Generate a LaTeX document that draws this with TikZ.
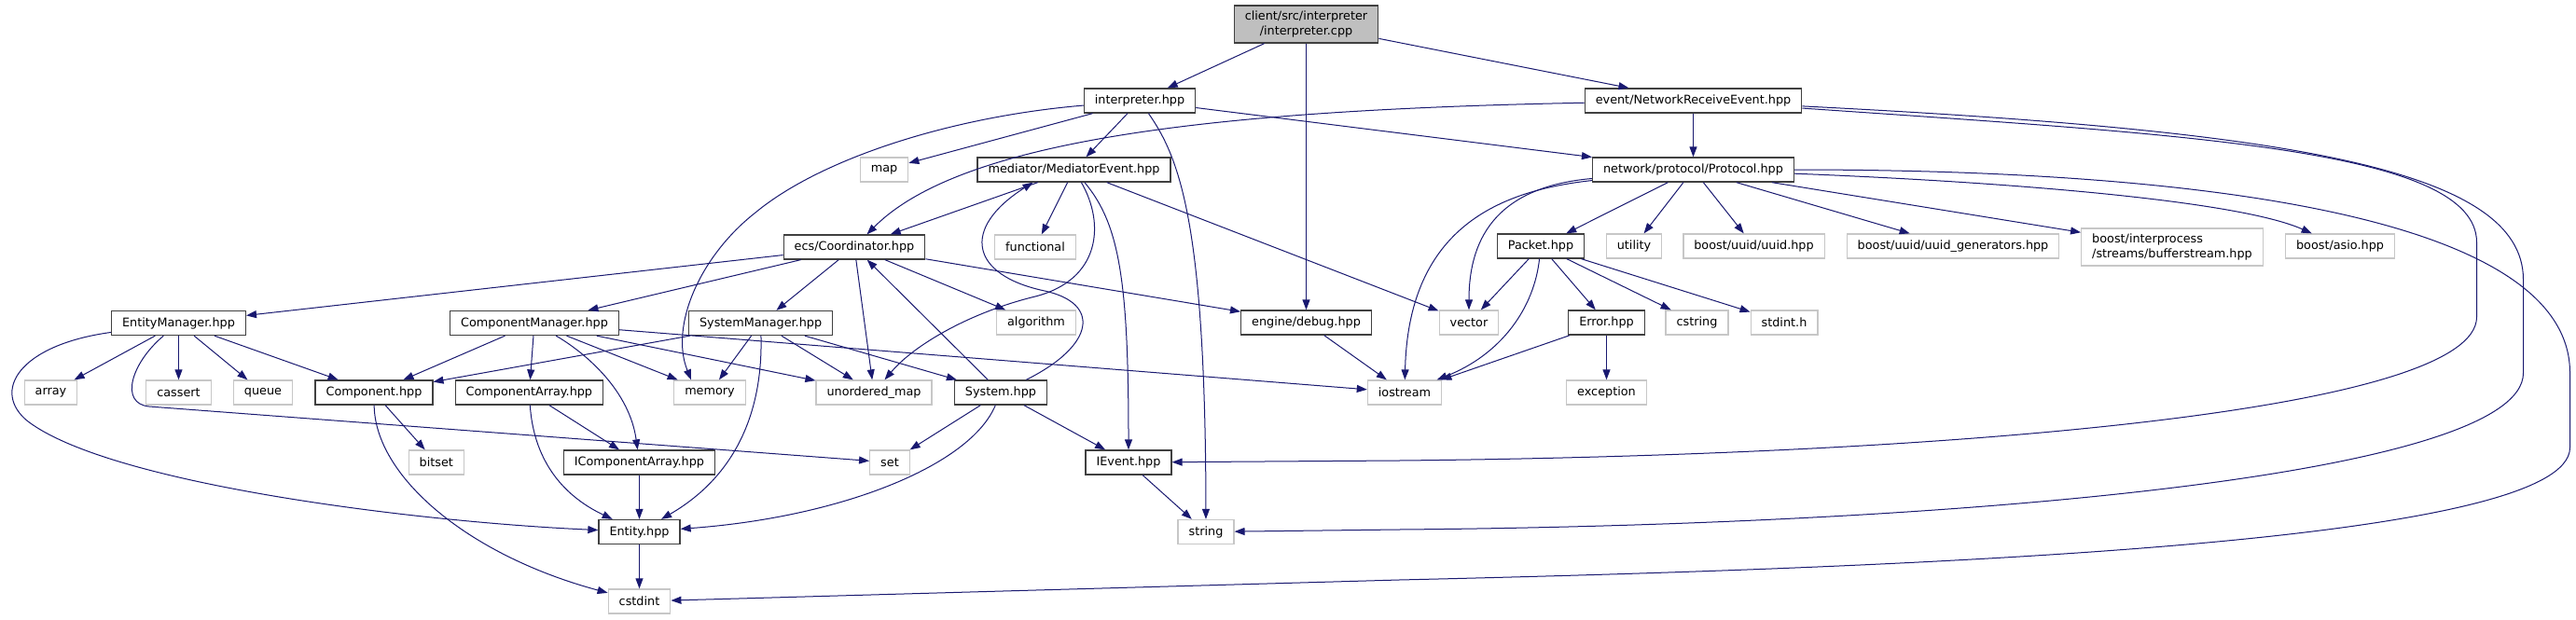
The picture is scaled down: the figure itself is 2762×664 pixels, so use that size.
\documentclass[tikz,border=0pt]{standalone}
\usepackage{fontspec}
\setmainfont{DejaVu Sans}
\usetikzlibrary{arrows.meta}
\definecolor{edgeblue}{HTML}{191970}
\newcommand{\incfont}{\fontsize{12.8}{15.5}\selectfont}

\begin{document}
\begin{tikzpicture}[
  x=1pt,y=-1pt,
  hdr/.style={draw=black!75,line width=1.3pt,fill=white,font=\incfont,
              inner xsep=11.5pt,inner ysep=0pt,minimum height=26pt},
  syshdr/.style={hdr,draw=black!22},
  rootfile/.style={hdr,fill=black!25,align=center,minimum height=40pt},
  inc/.style={-{Triangle[length=11pt,width=8pt]},draw=edgeblue,line width=1pt}
]
\path[fill=white,use as bounding box] (0,0) rectangle (2762,664);
\node[rootfile] (cpp) at (1400.5,26) {client/src/interpreter\\/interpreter.cpp};
\node[hdr] (ihpp) at (1222,108) {interpreter.hpp};
\node[hdr] (nre) at (1815.5,108) {event/NetworkReceiveEvent.hpp};
\node[syshdr] (map) at (948,182) {map};
\node[hdr] (med) at (1151.5,182) {mediator/MediatorEvent.hpp};
\node[hdr] (proto) at (1815.5,182) {network/protocol/Protocol.hpp};
\node[hdr] (coord) at (916,265) {ecs/Coordinator.hpp};
\node[syshdr] (func) at (1110,265) {functional};
\node[hdr] (packet) at (1652,264) {Packet.hpp};
\node[syshdr] (utility) at (1752,264) {utility};
\node[syshdr] (uuid) at (1880.5,264) {boost/uuid/uuid.hpp};
\node[syshdr] (uuidgen) at (2094,264) {boost/uuid/uuid\_generators.hpp};
\node[syshdr,align=left,minimum height=40pt] (bufstr) at (2329,265) {boost/interprocess\\/streams/bufferstream.hpp};
\node[syshdr] (asio) at (2509,264) {boost/asio.hpp};
\node[hdr] (entmgr) at (191.5,346.5) {EntityManager.hpp};
\node[hdr] (compmgr) at (573,346.5) {ComponentManager.hpp};
\node[hdr] (sysmgr) at (815.6,346.5) {SystemManager.hpp};
\node[syshdr] (algo) at (1111,346) {algorithm};
\node[hdr] (debug) at (1400.5,346) {engine/debug.hpp};
\node[syshdr] (vector) at (1575,346) {vector};
\node[hdr] (error) at (1722.5,346) {Error.hpp};
\node[syshdr] (cstring) at (1819.5,346) {cstring};
\node[syshdr] (stdinth) at (1913,346) {stdint.h};
\node[syshdr] (array) at (54.5,421) {array};
\node[syshdr] (cassert) at (191.5,421) {cassert};
\node[syshdr] (queue) at (282,421) {queue};
\node[hdr] (comp) at (401,421) {Component.hpp};
\node[hdr] (comparr) at (567.4,421) {ComponentArray.hpp};
\node[syshdr] (memory) at (761,421) {memory};
\node[syshdr] (umap) at (937,421) {unordered\_map};
\node[hdr] (system) at (1073,421) {System.hpp};
\node[syshdr] (iostream) at (1506,421) {iostream};
\node[syshdr] (exception) at (1722.5,421) {exception};
\node[syshdr] (bitset) at (467.8,496) {bitset};
\node[hdr] (icomparr) at (685.5,496) {IComponentArray.hpp};
\node[syshdr] (set) at (954,496) {set};
\node[hdr] (ievent) at (1210,496) {IEvent.hpp};
\node[hdr] (entity) at (685.5,570.5) {Entity.hpp};
\node[syshdr] (string) at (1293,570.5) {string};
\node[syshdr] (cstdint) at (685.5,645) {cstdint};
% interpreter.cpp
\draw[inc] (cpp) -- (ihpp);
\draw[inc] (cpp) -- (debug);
\draw[inc] (cpp) -- (nre);
% interpreter.hpp
\draw[inc] (ihpp) -- (map);
\draw[inc] (ihpp) -- (med);
\draw[inc] (ihpp) -- (proto);
\draw[inc] (ihpp) .. controls (1265,170) and (1292.5,240) .. (string);
\draw[inc] (ihpp) .. controls (1020,125) and (880,170) .. (810,228) .. controls (750,275) and (718,350) .. ([xshift=-20pt]memory.north);
% NetworkReceiveEvent
\draw[inc] (nre) -- (proto);
\draw[inc] (nre) .. controls (1300,118) and (1030,150) .. (coord);
\draw[inc] (nre) .. controls (2350,145) and (2655.5,160) .. (2655.5,260) -- (2655.5,340) .. controls (2655.5,440) and (2100,488) .. (1500,494) -- (ievent);
\draw[inc] (nre) .. controls (2450,140) and (2705.5,180) .. (2705.5,300) -- (2705.5,400) .. controls (2705.5,510) and (2100,563) .. (1500,568) -- (string);
% Protocol
\draw[inc] (proto) -- (packet);
\draw[inc] (proto) -- (utility);
\draw[inc] (proto) -- (uuid);
\draw[inc] (proto) -- (uuidgen);
\draw[inc] (proto) -- (bufstr);
\draw[inc] (proto) .. controls (2150,195) and (2400,215) .. (asio);
\draw[inc] (proto) .. controls (1610,200) and (1575,250) .. (vector);
\draw[inc] (proto) .. controls (1600,205) and (1510,250) .. (iostream);
\draw[inc] (proto) .. controls (2350,182) and (2755.5,230) .. (2755.5,400) -- (2755.5,480) .. controls (2755.5,580) and (2100,608) .. (1500,622) -- (cstdint);
% Packet, Error, debug
\draw[inc] (packet) -- (vector);
\draw[inc] (packet) .. controls (1645,330) and (1610,380) .. (iostream);
\draw[inc] (packet) -- (error);
\draw[inc] (packet) -- (cstring);
\draw[inc] (packet) -- (stdinth);
\draw[inc] (error) -- (iostream);
\draw[inc] (error) -- (exception);
\draw[inc] (debug) -- (iostream);
% MediatorEvent
\draw[inc] (med) -- (coord);
\draw[inc] (med) -- (func);
\draw[inc] (med) -- (vector);
\draw[inc] (med) .. controls (1185,240) and (1180,300) .. (1110,318) .. controls (1040,335) and (980,370) .. (umap);
\draw[inc] (med) .. controls (1200,240) and (1210,300) .. (ievent);
% Coordinator
\draw[inc] (coord) -- (entmgr);
\draw[inc] (coord) -- (compmgr);
\draw[inc] (coord) -- (sysmgr);
\draw[inc] (coord) -- (umap);
\draw[inc] (coord) -- (algo);
\draw[inc] (coord) -- (debug);
% EntityManager
\draw[inc] (entmgr) -- (array);
\draw[inc] (entmgr) -- (cassert);
\draw[inc] (entmgr) -- (queue);
\draw[inc] (entmgr) -- (comp);
\draw[inc] (entmgr) .. controls (20,370) and (-10,420) .. (30,452) .. controls (120,520) and (450,560) .. (entity);
\draw[inc] (entmgr) .. controls (140,390) and (128,433) .. (160,436) -- (set);
% ComponentManager
\draw[inc] (compmgr) -- (comp);
\draw[inc] (compmgr) -- (comparr);
\draw[inc] (compmgr) .. controls (630,380) and (675,420) .. (icomparr);
\draw[inc] (compmgr) -- (memory);
\draw[inc] (compmgr) -- (umap);
\draw[inc] (compmgr) -- (iostream);
% SystemManager
\draw[inc] (sysmgr) -- (comp);
\draw[inc] (sysmgr) -- (memory);
\draw[inc] (sysmgr) -- (umap);
\draw[inc] (sysmgr) -- (system);
\draw[inc] (sysmgr) .. controls (818,440) and (790,510) .. (entity);
% System
\draw[inc] (system) -- (coord);
\draw[inc] (system) .. controls (1175,370) and (1180,325) .. (1120,312) .. controls (1040,295) and (1030,245) .. ([xshift=-44pt]med.south);
\draw[inc] (system) -- (set);
\draw[inc] (system) .. controls (1040,500) and (900,555) .. (entity);
\draw[inc] (system) -- (ievent);
% components and entity
\draw[inc] (comp) -- (bitset);
\draw[inc] (comp) .. controls (402,510) and (500,595) .. (cstdint);
\draw[inc] (comparr) -- (icomparr);
\draw[inc] (comparr) .. controls (572,490) and (600,530) .. (entity);
\draw[inc] (icomparr) -- (entity);
\draw[inc] (entity) -- (cstdint);
\draw[inc] (ievent) -- (string);
\end{tikzpicture}
\end{document}
